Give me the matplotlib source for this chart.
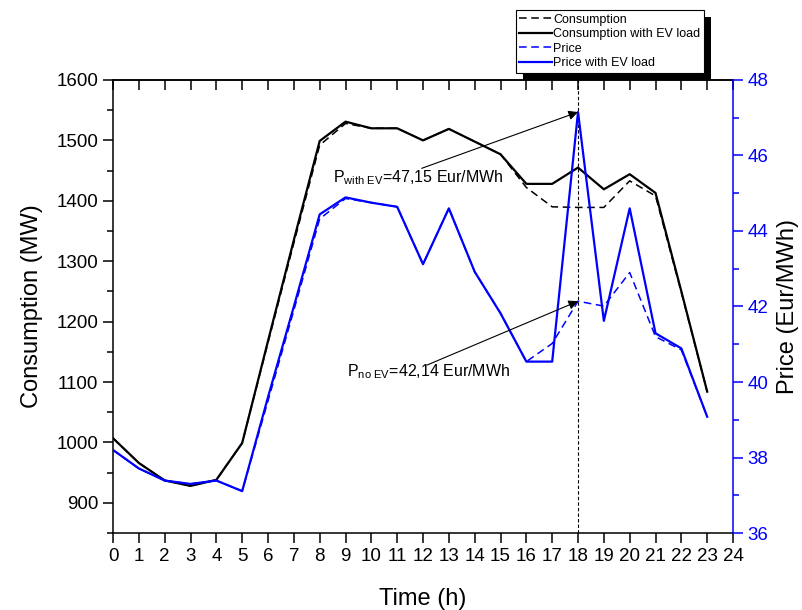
import matplotlib
matplotlib.use("Agg")
import matplotlib.pyplot as plt
from matplotlib.patches import Rectangle
from matplotlib.ticker import MultipleLocator

plt.rcParams['font.family'] = ['Liberation Sans', 'DejaVu Sans']
plt.rcParams['mathtext.fontset'] = 'custom'
plt.rcParams['mathtext.rm'] = 'Liberation Sans'
plt.rcParams['mathtext.it'] = 'Liberation Sans'

# hourly data
hours = list(range(24))
consumption = [1007, 966, 937, 928, 938, 999, 1165, 1330, 1492, 1528, 1520, 1520, 1500, 1519,
               1498, 1477, 1422, 1390, 1389, 1389, 1433, 1408, 1248, 1084]
consumption_ev = [1007, 966, 937, 928, 938, 999, 1168, 1335, 1499, 1531, 1520, 1520, 1500, 1519,
                  1498, 1477, 1428, 1428, 1455, 1419, 1444, 1413, 1250, 1084]
price = [38.2, 37.71, 37.39, 37.3, 37.39, 37.11, 39.5, 41.9, 44.32, 44.86, 44.75, 44.64, 43.12, 44.6,
         42.92, 41.82, 40.54, 41.02, 42.14, 42.01, 42.9, 41.2, 40.85, 39.08]
price_ev = [38.2, 37.71, 37.39, 37.3, 37.39, 37.11, 39.6, 42.0, 44.44, 44.89, 44.75, 44.64, 43.12, 44.6,
            42.92, 41.82, 40.54, 40.54, 47.15, 41.62, 44.6, 41.29, 40.89, 39.08]

fig = plt.figure(figsize=(8.02, 6.10), dpi=100)
ax = fig.add_axes([0.1409, 0.1262, 0.7731, 0.7427])
ax2 = ax.twinx()

l1, = ax.plot(hours, consumption, color='k', lw=1.1, ls=(0, (5, 3)), label='Consumption')
l2, = ax.plot(hours, consumption_ev, color='k', lw=1.6, label='Consumption with EV load')
l3, = ax2.plot(hours, price, color='#0000ff', lw=1.1, ls=(0, (5, 3)), label='Price')
l4, = ax2.plot(hours, price_ev, color='#0000ff', lw=1.6, label='Price with EV load')

ax.axvline(18, color='k', lw=0.8, ls=(0, (3, 2)))

ax.set_xlim(0, 24)
ax.set_ylim(850, 1600)
ax2.set_ylim(36, 48)
ax.xaxis.set_major_locator(MultipleLocator(1))
ax.yaxis.set_major_locator(MultipleLocator(100))
ax.yaxis.set_minor_locator(MultipleLocator(50))
ax2.yaxis.set_major_locator(MultipleLocator(2))
ax2.yaxis.set_minor_locator(MultipleLocator(1))
ax.set_yticks(range(900, 1601, 100))

ax.tick_params(axis='both', which='major', direction='out', length=7, width=1.1, labelsize=13.5)
ax.tick_params(axis='y', which='minor', direction='out', length=4, width=1.1)
ax2.tick_params(axis='y', which='major', direction='out', length=7, width=1.1, labelsize=13.5,
                colors='#0000ff')
ax2.tick_params(axis='y', which='minor', direction='out', length=4, width=1.1, colors='#0000ff')

for s in ax.spines.values():
    s.set_linewidth(1.1)
ax.spines['right'].set_visible(False)
for side in ['left', 'top', 'bottom']:
    ax2.spines[side].set_visible(False)
ax2.spines['right'].set_color('#0000ff')
ax2.spines['right'].set_linewidth(1.1)

top = ax.secondary_xaxis('top')
top.set_xticks(range(25))
top.set_xticklabels([])
top.tick_params(direction='in', length=7, width=1.1)
top.spines['top'].set_linewidth(1.1)

ax.set_xlabel('Time (h)', fontsize=17, labelpad=17)
ax.set_ylabel('Consumption (MW)', fontsize=17, labelpad=10)
ax2.set_ylabel('Price (Eur/MWh)', fontsize=17, labelpad=6)

# annotations
ax2.text(8.52, 45.40, r'P$_{\mathrm{with\ EV}}$=47,15 Eur/MWh', fontsize=11.5, va='center', ha='left')
ax2.annotate('', xy=(18, 47.15), xytext=(11.95, 45.66),
             arrowprops=dict(arrowstyle='-|>', color='k', lw=0.8, mutation_scale=14, shrinkA=0, shrinkB=0))
ax2.text(9.06, 40.27, r'P$_{\mathrm{no\ EV}}$=42,14 Eur/MWh', fontsize=11.5, va='center', ha='left')
ax2.annotate('', xy=(18, 42.14), xytext=(12.16, 40.45),
             arrowprops=dict(arrowstyle='-|>', color='k', lw=0.8, mutation_scale=14, shrinkA=0, shrinkB=0))

leg = fig.legend(handles=[l1, l2, l3, l4], loc='upper left', bbox_to_anchor=(0.643, 0.984),
                 fontsize=9, frameon=True, fancybox=False, edgecolor='k', framealpha=1,
                 handlelength=2.6, handletextpad=0.1, labelspacing=0.2, borderpad=0.3,
                 borderaxespad=0)
leg.get_frame().set_linewidth(0.8)
leg.set_zorder(10)

# solid black drop shadow behind the legend box
fig.canvas.draw()
bb = leg.get_window_extent()
shadow = Rectangle((bb.x0 + 7, bb.y0 - 7), bb.width, bb.height, transform=None,
                   facecolor='k', edgecolor='none', zorder=9)
fig.patches.append(shadow)

fig.savefig('out.png', dpi=100)
